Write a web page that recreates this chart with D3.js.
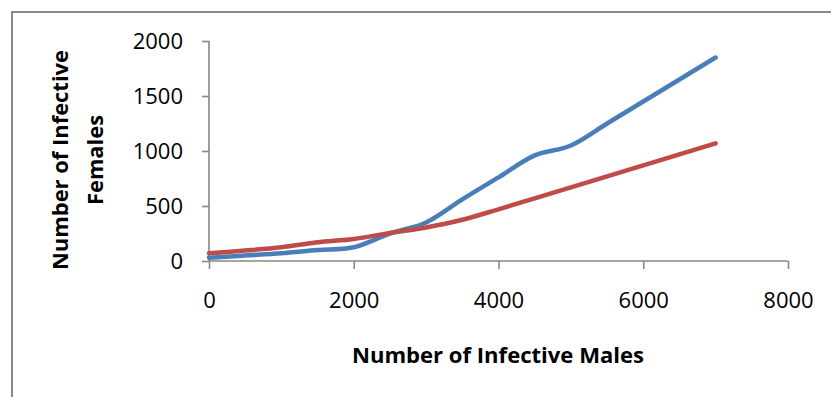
<!DOCTYPE html>
<html>
<head>
<meta charset="utf-8">
<script src="https://cdn.jsdelivr.net/npm/d3@7"></script>
<style>
  html, body { margin: 0; padding: 0; background: #fff; }
  svg { display: block; }
</style>
</head>
<body>
<svg id="chart" width="831" height="397"></svg>
<script>
// ---- data ----
const males = [0, 500, 1000, 1500, 2000, 2500, 3000, 3500, 4000, 4500, 5000, 5500, 6000, 6500, 7000];
const femalesBlue = [30, 50, 70, 100, 125, 250, 350, 560, 760, 960, 1050, 1250, 1450, 1650, 1850];
const femalesRed = [70, 95, 125, 170, 200, 255, 305, 375, 470, 570, 670, 770, 870, 970, 1070];
const xTicks = [0, 2000, 4000, 6000, 8000];
const yTicks = [0, 500, 1000, 1500, 2000];
const xTitle = "Number of Infective Males";
const yTitleLines = ["Number of Infective", "Females"];

const svg = d3.select("#chart");
const W = 831, H = 397;

// outer chart border
svg.append("rect")
  .attr("x", 12).attr("y", 12)
  .attr("width", W + 20).attr("height", H + 20)
  .attr("fill", "#fff").attr("stroke", "#888").attr("stroke-width", 2);

const x = d3.scaleLinear().domain([0, 8000]).range([209, 788]);
const y = d3.scaleLinear().domain([0, 2000]).range([261, 41]);

const axisColor = "#868686";
const font = "'Open Sans', 'Noto Sans', sans-serif";

// y axis
const yAxis = svg.append("g").attr("transform", "translate(209,0)")
  .call(d3.axisLeft(y).tickValues(yTicks).tickSize(7).tickPadding(19).tickFormat(d3.format("d")));
// x axis
const xAxis = svg.append("g").attr("transform", "translate(0,261)")
  .call(d3.axisBottom(x).tickValues(xTicks).tickSize(8).tickPadding(23).tickFormat(d3.format("d")));

[yAxis, xAxis].forEach(g => {
  g.select(".domain").attr("stroke", axisColor).attr("stroke-width", 1.6);
  g.selectAll(".tick line").attr("stroke", axisColor).attr("stroke-width", 1.6);
  g.selectAll(".tick text")
    .attr("fill", "#000")
    .style("font-family", font)
    .style("font-size", "22px");
});
yAxis.select(".domain").attr("d", `M0,${y(2000)}V${y(0)}`);
xAxis.select(".domain").attr("d", `M${x(0)},0H${x(8000)}`);

// lines
const line = d3.line()
  .x((d, i) => x(males[i]))
  .y(d => y(d))
  .curve(d3.curveCardinal.tension(0));

svg.append("path").datum(femalesBlue)
  .attr("d", line).attr("fill", "none")
  .attr("stroke", "#4A7EBB").attr("stroke-width", 4.5)
  .attr("stroke-linecap", "round").attr("stroke-linejoin", "round");

svg.append("path").datum(femalesRed)
  .attr("d", line).attr("fill", "none")
  .attr("stroke", "#BE4B48").attr("stroke-width", 4.5)
  .attr("stroke-linecap", "round").attr("stroke-linejoin", "round");

// x title
svg.append("text")
  .attr("x", 498).attr("y", 363)
  .attr("text-anchor", "middle")
  .attr("textLength", 292).attr("lengthAdjust", "spacingAndGlyphs")
  .style("font-family", font).style("font-weight", "bold").style("font-size", "21px")
  .text(xTitle);

// y title (two lines)
const yt = svg.append("g");
const yBaselines = [68, 103];
const yLens = [220, 90];
yTitleLines.forEach((t, i) => {
  yt.append("text")
    .attr("transform", `translate(${yBaselines[i]},160) rotate(-90)`)
    .attr("text-anchor", "middle")
    .attr("textLength", yLens[i]).attr("lengthAdjust", "spacingAndGlyphs")
    .style("font-family", font).style("font-weight", "bold").style("font-size", "22px")
    .text(t);
});
</script>
</body>
</html>
